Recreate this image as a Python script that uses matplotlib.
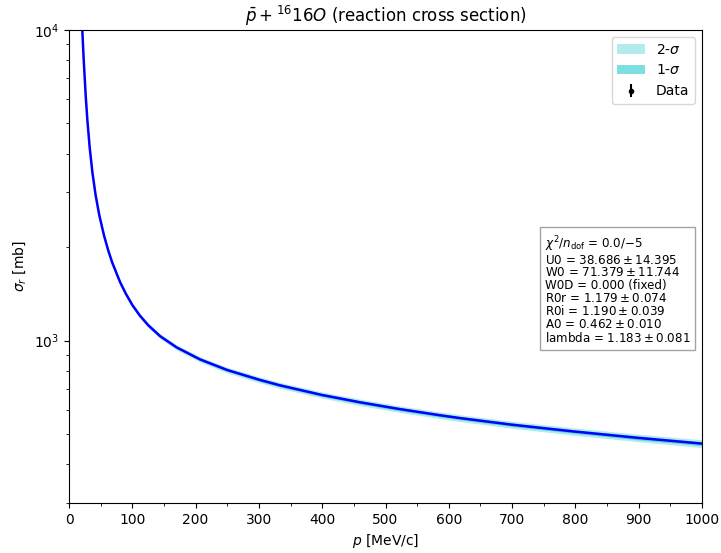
import numpy as np
import matplotlib
matplotlib.use("Agg")
import matplotlib.pyplot as plt
from matplotlib.ticker import MultipleLocator

# Best-fit reaction cross section vs. antiproton momentum
p_mev = [20, 21, 23, 26.3, 29, 32.7, 37, 42.1, 48, 55.3, 62, 68.4, 80.6, 89.5,
         100, 112, 125.3, 143.8, 170, 207, 250, 301.7, 333, 400, 459.7, 520,
         586, 617.7, 700, 796.7, 900, 1000]
sigma_r = [11160, 10000, 8186, 6177, 5131, 4182, 3475, 2935, 2525, 2180, 1950,
           1781, 1544, 1419, 1302, 1203, 1120, 1034, 951, 870, 804, 747, 718,
           668, 633, 603, 575, 563, 536, 510, 486, 466]
# relative half-widths of the confidence bands
rel_1sig = [0.008, 0.008, 0.008, 0.008, 0.008, 0.008, 0.008, 0.008, 0.008,
            0.008, 0.008, 0.008, 0.008, 0.008, 0.008, 0.008, 0.008, 0.009,
            0.009, 0.010, 0.010, 0.011, 0.011, 0.011, 0.012, 0.012, 0.012,
            0.012, 0.013, 0.013, 0.014, 0.014]
rel_2sig = [0.016, 0.016, 0.016, 0.016, 0.016, 0.016, 0.016, 0.016, 0.016,
            0.016, 0.016, 0.016, 0.016, 0.016, 0.016, 0.016, 0.017, 0.018,
            0.019, 0.020, 0.021, 0.022, 0.022, 0.023, 0.024, 0.024, 0.025,
            0.025, 0.026, 0.027, 0.028, 0.029]
data_p = []
data_sigma = []
data_err = []

fit_lines = [
    r"$\chi^2/n_{\rm dof}$ = 0.0/$-$5",
    r"U0 = $38.686 \pm 14.395$",
    r"W0 = $71.379 \pm 11.744$",
    r"W0D = 0.000 (fixed)",
    r"R0r = $1.179 \pm 0.074$",
    r"R0i = $1.190 \pm 0.039$",
    r"A0 = $0.462 \pm 0.010$",
    r"lambda = $1.183 \pm 0.081$",
]

p = np.array(p_mev)
s = np.array(sigma_r)
e1 = s * np.array(rel_1sig)
e2 = s * np.array(rel_2sig)

fig = plt.figure(figsize=(7.21, 5.53), dpi=100)
ax = fig.add_axes([69 / 721, 50 / 553, 633 / 721, 473 / 553])

ax.fill_between(p, s - e2, s + e2, color="c", alpha=0.3, lw=0, label=r"2-$\sigma$")
ax.fill_between(p, s - e1, s + e1, color="c", alpha=0.5, lw=0, label=r"1-$\sigma$")
ax.plot(p, s, color="b", lw=1.8)
ax.errorbar(data_p, data_sigma, yerr=data_err, fmt="k.", label="Data")

ax.set_yscale("log")
ax.set_xlim(0, 1000)
ax.set_ylim(300, 1e4)
ax.xaxis.set_major_locator(MultipleLocator(100))
ax.xaxis.set_minor_locator(MultipleLocator(50))
ax.tick_params(labelsize=10)

ax.set_xlabel(r"$p$ [MeV/c]", fontsize=10)
ax.set_ylabel(r"$\sigma_r$ [mb]", fontsize=10)
ax.set_title(r"$\bar{p} + ^{16}16O$ (reaction cross section)", fontsize=12, pad=6)
fig.text(342 / 721, 1.0 + 2 / 553, "(a)", fontsize=12, ha="center", va="bottom")

ax.legend(loc="upper right", fontsize=10)
ax.text(0.752, 0.568, "\n".join(fit_lines), transform=ax.transAxes,
        fontsize=8.6, va="top", ha="left", linespacing=0.97,
        bbox=dict(boxstyle="square,pad=0.4", facecolor="white",
                  edgecolor="0.6", alpha=0.9))

fig.savefig("out.png", dpi=100)
